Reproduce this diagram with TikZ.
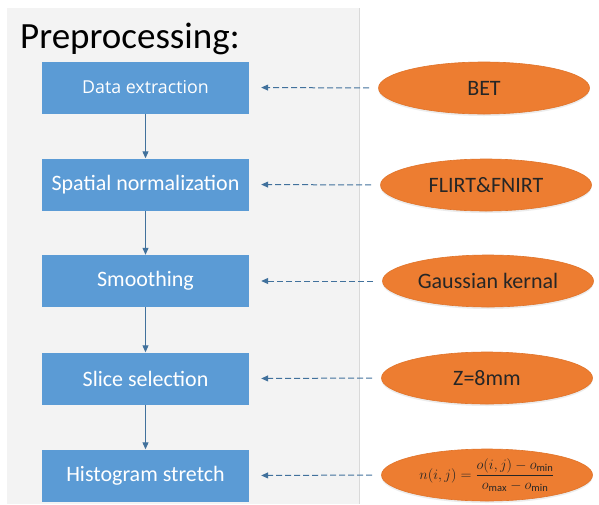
\documentclass[tikz,border=0pt]{standalone}
\usepackage{fontspec}
\setmainfont{Carlito}
\newfontfamily\segoe{Open Sans}
\usetikzlibrary{shapes.geometric,arrows.meta,shadows}
\definecolor{panelgray}{HTML}{F3F3F3}
\definecolor{panelline}{HTML}{D9D9D9}
\definecolor{boxblue}{HTML}{5B9BD5}
\definecolor{linkblue}{HTML}{41719C}
\definecolor{ellorange}{HTML}{ED7D31}
\definecolor{elledge}{HTML}{E0742A}
\tikzset{
  stepbox/.style={rectangle, fill=boxblue, minimum width=207pt, minimum height=52pt,
    inner sep=0pt, text=white, font=\fontsize{22}{25}\selectfont},
  toolell/.style={ellipse, fill=ellorange, draw=elledge, line width=0.6pt,
    minimum width=211pt, minimum height=52pt, inner sep=0pt, text=black!85,
    font=\fontsize{22}{25}\selectfont,
    drop shadow={opacity=0.15, shadow xshift=0pt, shadow yshift=-2pt}},
  flow/.style={draw=linkblue, line width=1pt, -{Triangle[length=7pt,width=6pt]}},
  feed/.style={draw=linkblue, line width=1pt, dash pattern=on 6pt off 3pt,
    -{Triangle[length=7pt,width=6pt]}, shorten >=12pt, shorten <=9pt}
}
\begin{document}
\begin{tikzpicture}[x=1pt,y=-1pt]
\useasboundingbox (0,0) rectangle (599,504);
\fill[white] (0,0) rectangle (599,504);
\fill[panelgray] (7,8) rectangle (359,504);
\draw[panelline, line width=0.8pt] (359,8) -- (359,504);
\node[anchor=base west, font=\fontsize{37}{42}\selectfont, inner sep=0pt] (title) at (20,48) {Preprocessing:};

\node[stepbox, font=\segoe\fontsize{17.8}{21}\selectfont] (s1) at (145.5,87.5) {Data extraction};
\node[stepbox] (s2) at (145.5,184.5) {Spatial normalization};
\node[stepbox] (s3) at (145.5,281) {Smoothing};
\node[stepbox] (s4) at (145.5,378.5) {Slice selection};
\node[stepbox] (s5) at (145.5,475.5) {Histogram stretch};

\node[toolell] (e1) at (484,88) {BET};
\node[toolell] (e2) at (486,185) {FLIRT\&FNIRT};
\node[toolell] (e3) at (488,281) {Gaussian kernal};
\node[toolell] (e4) at (487,378) {Z=8mm};
\node[toolell, font=\fontsize{15}{17}\selectfont] (e5) at (487,475) {$\displaystyle n(i,j)=\frac{o(i,j)-o_{\min}}{o_{\max}-o_{\min}}$};

\foreach \a/\b in {s1/s2,s2/s3,s3/s4,s4/s5}
  \draw[flow] (\a.south) -- (\b.north);
\foreach \e/\s in {e1/s1,e2/s2,e3/s3,e4/s4,e5/s5}
  \draw[feed] (\e.west) -- (\s.east);
\end{tikzpicture}
\end{document}
